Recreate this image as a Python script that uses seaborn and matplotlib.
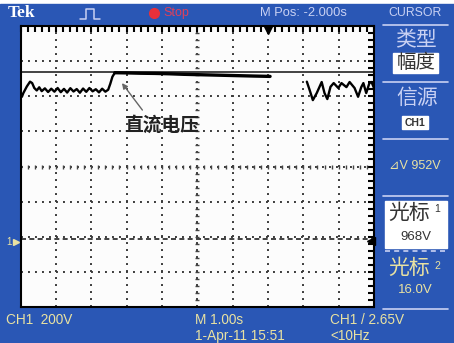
import matplotlib
matplotlib.use("Agg")
import matplotlib.pyplot as plt
import numpy as np
import pandas as pd
import seaborn as sns
from matplotlib.lines import Line2D
from matplotlib.patches import Rectangle

# CH1 trace (time in s, voltage in V)
dc_t = [-7.0, -6.96, -6.92, -6.82, -6.73, -6.67, -6.61, -6.54, -6.47, -6.40,
        -6.31, -6.22, -6.13, -6.04, -5.95, -5.86, -5.77, -5.68, -5.59, -5.50,
        -5.41, -5.32, -5.23, -5.14, -5.05, -4.96, -4.87, -4.78, -4.69, -4.60,
        -4.52, -4.46, -4.40, -4.33]
dc_v = [850, 826, 847, 885, 912, 904, 876, 862, 880, 858,
        874, 853, 872, 855, 876, 852, 871, 850, 875, 856,
        870, 849, 873, 854, 876, 857, 869, 851, 872, 855,
        866, 900, 940, 963]
flat_t = [-4.33, -4.0, -3.6, -3.2, -2.8, -2.4, -2.0, -1.6, -1.2, -0.8, -0.4, 0.06]
flat_v = [963, 962, 960, 959, 957, 954, 952, 950, 948, 946, 944, 942]
ripple_t = [1.10, 1.18, 1.27, 1.38, 1.52, 1.60, 1.68, 1.77, 1.86, 1.99, 2.08,
            2.22, 2.31, 2.45, 2.55, 2.64, 2.70, 2.78, 2.87, 2.93, 3.0]
ripple_v = [912, 864, 807, 847, 910, 847, 813, 883, 904, 876, 904,
            881, 910, 876, 826, 881, 904, 847, 904, 910, 876]

cursor1_v = 968
cursor2_v = 16
trig_level = 2.65
volts_div = 200
sec_div = 1.0
ground_div = -2.145      # ground marker below screen centre
m_pos = -2.0             # time at screen centre

W, H = 454, 343
BLUE = '#2a57b5'
LAV = '#c9d1f3'
YEL = '#e9e2a2'
CJK = ['Noto Sans CJK SC', 'DejaVu Sans']

sns.set_theme(style="white")
plt.rcParams['font.family'] = ['Liberation Sans', 'Noto Sans CJK SC', 'DejaVu Sans']

fig = plt.figure(figsize=(W / 100, H / 100), dpi=100)
fig.patch.set_facecolor('white')


def fx(x):
    return x / W


def fy(y):
    return 1 - y / H


def ftext(x, y, s, **kw):
    kw.setdefault('va', 'center')
    fig.text(fx(x), fy(y), s, **kw)


def box(x0, y0, x1, y1, **kw):
    fig.add_artist(Rectangle((fx(x0), fy(y1)), (x1 - x0) / W, (y1 - y0) / H,
                             transform=fig.transFigure, **kw))


def hline(x0, x1, y, **kw):
    fig.add_artist(Line2D([fx(x0), fx(x1)], [fy(y), fy(y)], transform=fig.transFigure, **kw))


box(0, 4, W, H, color=BLUE, zorder=-10)

ax = fig.add_axes([fx(20.5), fy(307), 353.5 / W, 281 / H])
ax.set_facecolor('#fcfcfc')

centre_v = -ground_div * volts_div
ax.set_xlim(m_pos - 5 * sec_div, m_pos + 5 * sec_div)
ax.set_ylim(centre_v - 4 * volts_div, centre_v + 4 * volts_div)
ax.set_xticks(np.arange(m_pos - 5, m_pos + 5.01, sec_div))
ax.set_yticks(centre_v + np.arange(-4, 4.01) * volts_div)
ax.set_xticks(np.arange(m_pos - 5, m_pos + 5.01, sec_div / 5), minor=True)
ax.set_yticks(centre_v + np.arange(-4, 4.01, 0.2) * volts_div, minor=True)
ax.grid(True, which='major', color='#3a3a3a', lw=1.4, ls=(0, (1, 2.6)))
ax.tick_params(which='both', direction='in', length=4, width=1.5, color='black',
               top=True, right=True, labelbottom=False, labelleft=False)
for s in ax.spines.values():
    s.set_color('black')
    s.set_linewidth(1.5)

# centre graticule ticks
ct = np.arange(m_pos - 5, m_pos + 5.01, sec_div / 5)
cv = centre_v + np.arange(-4, 4.01, 0.2) * volts_div
ax.plot(ct, np.full(len(ct), centre_v), ls='none', marker='|', ms=2.8, mew=1.0, color='#444444')
ax.plot(np.full(len(cv), m_pos), cv, ls='none', marker='_', ms=2.8, mew=1.0, color='#444444')

# cursors
ax.axhline(cursor1_v, color='#111111', lw=1.1)
ax.axhline(cursor2_v, color='#222222', lw=1.2, ls=(0, (3, 2)))

trace = pd.DataFrame({
    't': dc_t + ripple_t,
    'v': dc_v + ripple_v,
    'seg': ['dc'] * len(dc_t) + ['ripple'] * len(ripple_t),
})
sns.lineplot(data=trace, x='t', y='v', units='seg', estimator=None, sort=False,
             color='black', lw=1.7, ax=ax, legend=False)
sns.lineplot(x=flat_t, y=flat_v, sort=False, color='black', lw=2.4, ax=ax)
ax.set_xlabel('')
ax.set_ylabel('')

ax.annotate('直流电压', xy=(-4.13, 904), xytext=(-3.01, 665), ha='center', va='center',
            fontsize=13.5, family=CJK, weight='bold', color='#222222',
            arrowprops=dict(arrowstyle='-|>', color='#666666', lw=1.0, mutation_scale=8,
                            relpos=(0.3, 1.0), shrinkA=2, shrinkB=0))

# trigger position and level markers
ax.plot([0], [0.985], marker='v', ms=6, color='black',
        transform=ax.get_xaxis_transform(), clip_on=False)
ax.plot([0.992], [trig_level], marker='<', ms=6, color='black',
        transform=ax.get_yaxis_transform(), clip_on=False)

# top bar
ftext(8, 13, 'Tek', family='Liberation Serif', weight='bold', fontsize=12.5, color='white')
fig.add_artist(Line2D([fx(80), fx(86), fx(86), fx(94), fx(94), fx(100)],
                      [fy(19), fy(19), fy(9), fy(9), fy(19), fy(19)],
                      transform=fig.transFigure, color=LAV, lw=1.1))
fig.add_artist(Line2D([fx(154)], [fy(13)], marker='o', ms=7, color='#e8303a',
                      transform=fig.transFigure))
ftext(163, 13, 'Stop', fontsize=9, color='#e0405a')
ftext(260, 13, 'M Pos: -2.000s', fontsize=9.3, color=LAV)
ftext(415, 13, 'CURSOR', fontsize=8.8, color=LAV, ha='center')

# right menu
for y in (24.5, 82, 139, 196, 309):
    hline(383, 448, y, color=LAV, lw=1.2)
hline(385, 447, 251, color=LAV, lw=1.2, ls=(0, (3, 2.5)))
ftext(416, 40, '类型', family=CJK, fontsize=15, color=LAV, ha='center')
box(393, 53, 438, 73, color='white')
ftext(416, 63, '幅度', family=CJK, fontsize=14, color='#333333', ha='center')
ftext(417, 98, '信源', family=CJK, fontsize=15, color=LAV, ha='center')
box(402, 116, 428, 129, color='white')
ftext(415, 122.5, 'CH1', fontsize=7.5, weight='bold', color='#333333', ha='center')
ftext(415, 166, '⊿V 952V', fontsize=9, color=YEL, ha='center',
      family=['Liberation Sans', 'DejaVu Sans'])
box(385, 201, 447, 248, color='white')
ftext(409, 213, '光标', family=CJK, fontsize=15, color='#333333', ha='center')
ftext(434, 209, '1', fontsize=7.5, color='#333333')
ftext(416, 237, '968V', fontsize=9.5, color='#333333', ha='center')
ftext(409, 268, '光标', family=CJK, fontsize=15, color=YEL, ha='center')
ftext(434, 266, '2', fontsize=7.5, color=YEL)
ftext(415, 290, '16.0V', fontsize=9.5, color=YEL, ha='center')

# ground marker
ftext(6, 241.7, '1', fontsize=7, color=YEL)
fig.add_artist(Line2D([fx(15.5)], [fy(241.7)], marker='>', ms=4, color=YEL,
                      transform=fig.transFigure))

# bottom bar
ftext(6, 320, 'CH1  200V', fontsize=9.8, color=YEL)
ftext(195, 320, 'M 1.00s', fontsize=9.8, color=YEL)
ftext(330, 320, 'CH1 / 2.65V', fontsize=9.8, color=YEL)
ftext(195, 336, '1-Apr-11 15:51', fontsize=9.8, color=YEL)
ftext(330, 336, '<10Hz', fontsize=9.8, color=YEL)

fig.savefig('out.png', dpi=100, facecolor=fig.get_facecolor())
